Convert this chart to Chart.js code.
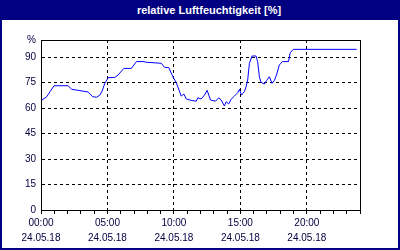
<!DOCTYPE html>
<html>
<head>
<meta charset="utf-8">
<script src="https://cdn.jsdelivr.net/npm/chart.js@4/dist/chart.umd.min.js"></script>
<style>
  html, body { margin: 0; padding: 0; background: #fff; }
  #frame { width: 396px; height: 228px; border: 2px solid #000080; border-top: none; position: relative; }
  #title { width: 400px; height: 20px; background: #000080; color: #fff; font: bold 11px "Liberation Sans", sans-serif;
           line-height: 20px; text-align: center; box-sizing: border-box; padding-left: 18px; }
  #chart-box { width: 396px; height: 228px; }
</style>
</head>
<body>
<div id="title">relative Luftfeuchtigkeit [%]</div>
<div id="frame"><div id="chart-box"><canvas id="humidity-chart"></canvas></div></div>
<script>
// time of day in hours, 24.05.18
const hours = [0, 0.43, 0.68, 0.98, 2.05, 2.3, 2.8, 3.55, 3.88, 4.18, 4.43, 4.6, 4.8, 5.05, 5.55, 5.8,
  6.23, 6.8, 7.18, 7.67, 7.93, 9.05, 9.3, 9.62, 9.92, 10.18, 10.55, 10.75, 10.93, 11.3, 11.68, 11.8,
  12.05, 12.3, 12.5, 12.75, 13.13, 13.37, 13.55, 13.8, 13.93, 14.12, 14.3, 14.55, 14.8, 14.93, 15.08,
  15.3, 15.43, 15.55, 15.68, 15.88, 16.18, 16.3, 16.43, 16.55, 16.8, 16.97, 17.18, 17.38, 17.55, 17.72,
  17.93, 18.17, 18.62, 18.75, 18.98, 23.75];
const humidity = [64.3, 66.6, 69.6, 73.1, 73.1, 71.0, 70.4, 69.4, 66.7, 66.3, 67.6, 70, 74.5, 77.8, 78, 79.4,
  83.3, 83.3, 87.3, 87.3, 86.9, 86.3, 83.9, 83.7, 78.4, 74.9, 67, 68.2, 65.3, 64.5, 64, 66,
  65.3, 67.6, 70.4, 64.7, 64, 66, 64.7, 61.2, 63.7, 62.4, 65.1, 67, 69, 71, 67.6,
  69.6, 72.5, 76.5, 86.3, 90.6, 90.6, 87.3, 78.4, 75.1, 74.1, 76.1, 78.4, 74.5, 76.1, 79.4,
  85.3, 87.3, 87.3, 92.5, 94.5, 94.5];
const dateLabel = '24.05.18';
const yTicks = [0, 15, 30, 45, 60, 75, 90];

const points = hours.map((h, i) => ({ x: h, y: humidity[i] }));
const labelColor = '#000040';
const tickFont = { family: 'Liberation Sans', size: 10, lineHeight: 1.5 };

const frameBox = {
  id: 'frameBox',
  afterDraw(chart) {
    const a = chart.chartArea;
    const ctx = chart.ctx;
    ctx.save();
    ctx.strokeStyle = '#000';
    ctx.lineWidth = 1;
    ctx.strokeRect(Math.round(a.left) + 0.5, Math.round(a.top) + 0.5,
      Math.round(a.right - a.left), Math.round(a.bottom - a.top));
    ctx.restore();
  }
};

new Chart(document.getElementById('humidity-chart'), {
  type: 'line',
  data: {
    datasets: [{
      data: points,
      borderColor: '#0000ff',
      borderWidth: 1,
      pointRadius: 0,
      tension: 0,
      fill: false
    }]
  },
  options: {
    responsive: true,
    maintainAspectRatio: false,
    animation: false,
    layout: { padding: { top: 20, right: 38, left: 0, bottom: 0 } },
    plugins: { legend: { display: false }, tooltip: { enabled: false }, title: { display: false } },
    scales: {
      x: {
        type: 'linear',
        min: 0,
        max: 24,
        afterFit: s => { s.height = 38; },
        ticks: {
          stepSize: 1,
          autoSkip: false,
          maxRotation: 0,
          padding: 2,
          color: labelColor,
          font: tickFont,
          callback: v => (v % 5 === 0 ? [String(v).padStart(2, '0') + ':00', dateLabel] : '')
        },
        grid: {
          color: c => (c.tick && c.tick.value % 5 === 0 && c.tick.value > 0 ? '#000' : 'transparent'),
          tickColor: '#000',
          tickLength: 4,
          lineWidth: 1
        },
        border: { display: true, color: '#000', dash: [3, 3] }
      },
      y: {
        min: 0,
        max: 100,
        afterFit: s => { s.width = 39; },
        afterBuildTicks: s => { s.ticks = yTicks.concat([100]).map(v => ({ value: v })); },
        ticks: {
          padding: 5,
          color: labelColor,
          font: tickFont,
          callback: v => (v === 100 ? '%' : String(v))
        },
        grid: {
          drawTicks: false,
          color: c => (c.tick && c.tick.value > 0 && c.tick.value < 100 ? '#000' : 'transparent'),
          lineWidth: 1
        },
        border: { display: true, color: '#000', dash: [3, 3] }
      }
    }
  },
  plugins: [frameBox]
});
</script>
</body>
</html>
